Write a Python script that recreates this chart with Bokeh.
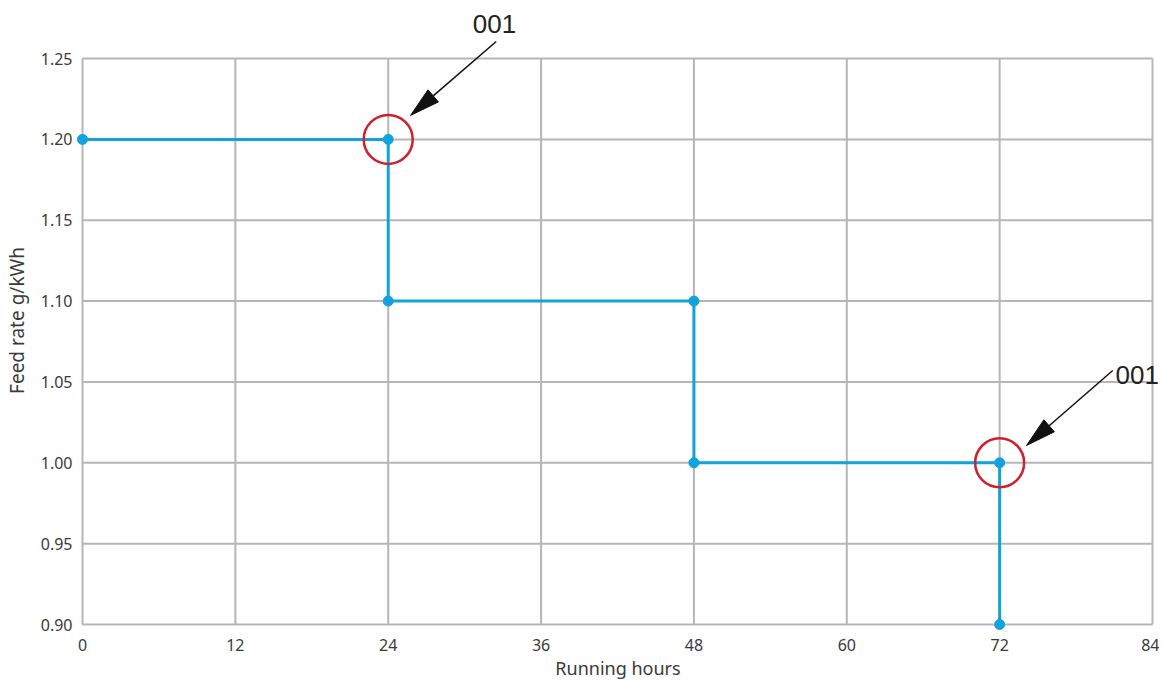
import math
from bokeh.plotting import figure
from bokeh.models import Range1d, FixedTicker, NumeralTickFormatter, Label
from bokeh.embed import file_html
from bokeh.resources import INLINE

# data
hours = [0, 24, 24, 48, 48, 72, 72]
feed_rate = [1.20, 1.20, 1.10, 1.10, 1.00, 1.00, 0.90]
x_ticks = [0, 12, 24, 36, 48, 60, 72, 84]
y_ticks = [0.90, 0.95, 1.00, 1.05, 1.10, 1.15, 1.20, 1.25]
marked_hours = [24, 72]
marked_rates = [1.20, 1.00]
callout_text = ["001", "001"]

BLUE = "#10a3dc"
GRID = "#b6b6ba"
TEXT = "#3a3a3a"
FONT = "Noto Sans"

X0, X1 = -0.471, 84.55
Y0, Y1 = 0.89629, 1.2797
FW, FH = 1083, 620

p = figure(frame_width=FW, frame_height=FH, output_backend="svg", toolbar_location=None,
           x_range=Range1d(X0, X1), y_range=Range1d(Y0, Y1),
           min_border_left=60, min_border_top=10, min_border_right=0, min_border_bottom=40)

p.xaxis.ticker = FixedTicker(ticks=x_ticks)
p.yaxis.ticker = FixedTicker(ticks=y_ticks)
p.yaxis.formatter = NumeralTickFormatter(format="0.00")
for ax in (p.xaxis, p.yaxis):
    ax.axis_line_color = None
    ax.major_tick_line_color = None
    ax.minor_tick_line_color = None
    ax.major_tick_out = 0
    ax.major_tick_in = 0
    ax.major_label_text_font = FONT
    ax.major_label_text_font_size = "16px"
    ax.major_label_text_color = TEXT
    ax.axis_label_text_font = FONT
    ax.axis_label_text_font_style = "normal"
    ax.axis_label_text_color = TEXT
p.xaxis.axis_label = "Running hours"
p.yaxis.axis_label = "Feed rate g/kWh"
p.xaxis.axis_label_text_font_size = "18px"
p.yaxis.axis_label_text_font_size = "19px"
p.xaxis.major_label_standoff = 8
p.yaxis.major_label_standoff = 4
p.xaxis.axis_label_standoff = 2
p.yaxis.axis_label_standoff = 8

p.grid.visible = False
p.outline_line_color = None
p.background_fill_color = "white"
p.border_fill_color = "white"

# grid drawn within the tick extent
xa, xb = x_ticks[0], x_ticks[-1]
ya, yb = y_ticks[0], y_ticks[-1]
p.segment(x0=x_ticks, y0=[ya] * len(x_ticks), x1=x_ticks, y1=[yb] * len(x_ticks),
          line_color=GRID, line_width=2)
p.segment(x0=[xa] * len(y_ticks), y0=y_ticks, x1=[xb] * len(y_ticks), y1=y_ticks,
          line_color=GRID, line_width=2)

p.line(hours, feed_rate, line_color=BLUE, line_width=3)
p.scatter(hours, feed_rate, size=10, color=BLUE)

p.scatter(marked_hours, marked_rates, size=49, fill_color=None,
          line_color="#d0202e", line_width=2.5)

# callout arrows
sx = FW / (X1 - X0)
sy = FH / (Y1 - Y0)
starts = [(32.48, 1.2605), (80.88, 1.0571)]
tip_off = [(1.75, 0.0148), (2.11, 0.0107)]
HEAD_L, HEAD_W = 30, 16
seg_x0, seg_y0, seg_x1, seg_y1, heads_x, heads_y = [], [], [], [], [], []
for (hx, ry), (ax_, ay_), (dx, dy) in zip(zip(marked_hours, marked_rates), starts, tip_off):
    tx, ty = hx + dx, ry + dy
    vx, vy = (tx - ax_) * sx, (ty - ay_) * sy
    L = math.hypot(vx, vy)
    ux, uy = vx / L, vy / L
    bx, by = tx - HEAD_L * ux / sx, ty - HEAD_L * uy / sy
    nx, ny = -uy, ux
    heads_x.append([tx, bx + HEAD_W / 2 * nx / sx, bx - HEAD_W / 2 * nx / sx])
    heads_y.append([ty, by + HEAD_W / 2 * ny / sy, by - HEAD_W / 2 * ny / sy])
    seg_x0.append(ax_); seg_y0.append(ay_); seg_x1.append(bx); seg_y1.append(by)
p.segment(seg_x0, seg_y0, seg_x1, seg_y1, line_color="#111111", line_width=1.5)
p.patches(heads_x, heads_y, fill_color="#111111", line_color="#111111", line_width=1)

p.add_layout(Label(x=32.34, y=1.2713, text=callout_text[0], text_align="center",
                   text_baseline="middle", text_font="Liberation Sans",
                   text_font_size="26px", text_color="#222222"))
p.add_layout(Label(x=81.1, y=1.0546, text=callout_text[1], text_align="left",
                   text_baseline="middle", text_font="Liberation Sans",
                   text_font_size="26px", text_color="#222222"))

open("out.html", "w").write(file_html(p, INLINE))
